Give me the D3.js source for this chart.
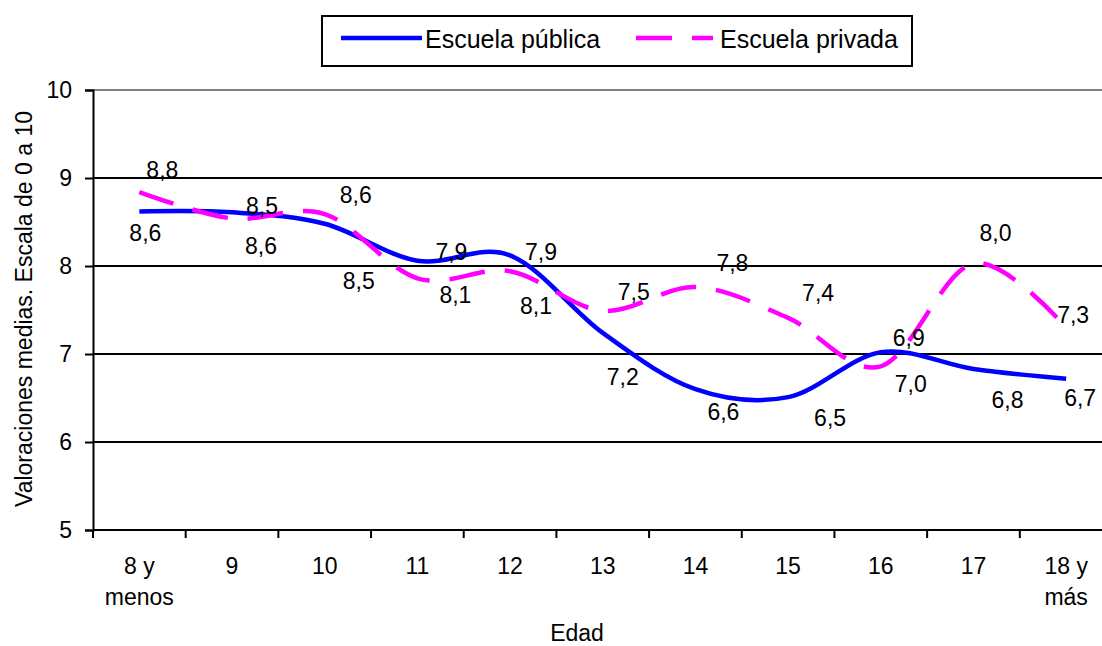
<!DOCTYPE html>
<html><head><meta charset="utf-8">
<script src="https://cdn.jsdelivr.net/npm/d3@7"></script>
<style>
body{margin:0;background:#fff}
svg{display:block}
text{font-family:"Liberation Sans",Arial,sans-serif;fill:#000}
</style>
</head><body><svg id="c" width="1102" height="646"></svg>
<script>
// ---- data ----
const categories = ["8 y\nmenos","9","10","11","12","13","14","15","16","17","18 y\nmás"];
const publica = [8.62, 8.61, 8.48, 8.06, 8.12, 7.24, 6.60, 6.51, 7.02, 6.83, 6.72];
const privada = [8.84, 8.54, 8.59, 7.86, 7.94, 7.49, 7.76, 7.41, 6.86, 8.03, 7.30];
const yTicks = [5, 6, 7, 8, 9, 10];
const seriesNames = ["Escuela pública", "Escuela privada"];
const yTitle = "Valoraciones medias. Escala de 0 a 10";
const xTitle = "Edad";

// ---- layout (label offsets from each point, px) ----
const offPub  = [[6,21],[29,33],[34,57],[38,34],[26,50],[20,44],[28,23],[42,21],[30,31],[34,31],[14,19]];
const offPriv = [[23,-22],[30,-13],[31,-19],[34,-27],[31,-20],[31,-19],[37,-24],[30,-25],[28,-29],[22,-31],[7,-13]];

const FS = 23;
const svg = d3.select("#c");
const X0 = 93, X1 = 1112.5, Y0 = 530, Y1 = 90;

const x = d3.scaleBand().domain(categories).range([X0, X1]);
const cx = c => x(c) + x.bandwidth() / 2;
const y = d3.scaleLinear().domain([5, 10]).range([Y0, Y1]);
const fmt = v => d3.format(".1f")(v).replace(".", ",");

// gridlines
svg.append("g").selectAll("line").data(yTicks.filter(t => t > 5)).join("line")
  .attr("x1", X0).attr("x2", X1)
  .attr("y1", d => y(d)).attr("y2", d => y(d))
  .attr("stroke", d => d === 10 ? "#808080" : "#000").attr("stroke-width", 2);

// y axis
const ya = svg.append("g").attr("transform", `translate(${X0},0)`)
  .call(d3.axisLeft(y).tickValues(yTicks).tickSize(8).tickPadding(13).tickFormat(d3.format("d")));
ya.select(".domain").attr("stroke", "#000").attr("stroke-width", 2);
ya.selectAll(".tick line").attr("stroke", "#000").attr("stroke-width", 2);
ya.selectAll(".tick text").attr("font-size", FS).attr("font-family", '"Liberation Sans",Arial,sans-serif').attr("fill", "#000");

// x axis
svg.append("line").attr("x1", X0).attr("x2", X1).attr("y1", Y0).attr("y2", Y0)
  .attr("stroke", "#000").attr("stroke-width", 2);
const edges = categories.map(c => x(c)).concat([X1]);
svg.append("g").selectAll("line").data(edges).join("line")
  .attr("x1", d => d).attr("x2", d => d).attr("y1", Y0).attr("y2", Y0 + 8)
  .attr("stroke", "#000").attr("stroke-width", 2);
const xl = svg.append("g").selectAll("text").data(categories).join("text")
  .attr("text-anchor", "middle").attr("font-size", FS);
xl.each(function(c) {
  const lines = c.split("\n");
  d3.select(this).selectAll("tspan").data(lines).join("tspan")
    .attr("x", cx(c)).attr("y", (d, i) => 574 + i * 31).text(d => d);
});

// axis titles
svg.append("text").attr("x", 577).attr("y", 641).attr("text-anchor", "middle")
  .attr("font-size", FS).text(xTitle);
svg.append("text").attr("transform", "translate(32,309) rotate(-90)")
  .attr("text-anchor", "middle").attr("font-size", FS).text(yTitle);

// lines
const line = d3.line().x((d, i) => cx(categories[i])).y(d => y(d)).curve(d3.curveCardinal.tension(0));
svg.append("path").attr("d", line(publica)).attr("fill", "none")
  .attr("stroke", "#0000FF").attr("stroke-width", 4.5);
svg.append("path").attr("d", line(privada)).attr("fill", "none")
  .attr("stroke", "#FF00FF").attr("stroke-width", 4.5).attr("stroke-dasharray", "36,20");

// data labels
function labels(vals, offs) {
  svg.append("g").selectAll("text").data(vals).join("text")
    .attr("x", (d, i) => cx(categories[i]) + offs[i][0])
    .attr("y", (d, i) => y(d) + offs[i][1])
    .attr("dy", "0.36em").attr("text-anchor", "middle").attr("font-size", FS)
    .text(d => fmt(d));
}
labels(publica, offPub);
labels(privada, offPriv);

// legend
const lg = svg.append("g");
lg.append("rect").attr("x", 322).attr("y", 16).attr("width", 590).attr("height", 50)
  .attr("fill", "#fff").attr("stroke", "#000").attr("stroke-width", 2);
lg.append("line").attr("x1", 341).attr("x2", 422).attr("y1", 38).attr("y2", 38)
  .attr("stroke", "#0000FF").attr("stroke-width", 4.5);
lg.append("line").attr("x1", 636).attr("x2", 713).attr("y1", 38).attr("y2", 38)
  .attr("stroke", "#FF00FF").attr("stroke-width", 4.5).attr("stroke-dasharray", "36,20");
lg.append("text").attr("x", 425).attr("y", 48).attr("font-size", 25).text(seriesNames[0]);
lg.append("text").attr("x", 720).attr("y", 48).attr("font-size", 25).text(seriesNames[1]);
</script>
</body></html>
